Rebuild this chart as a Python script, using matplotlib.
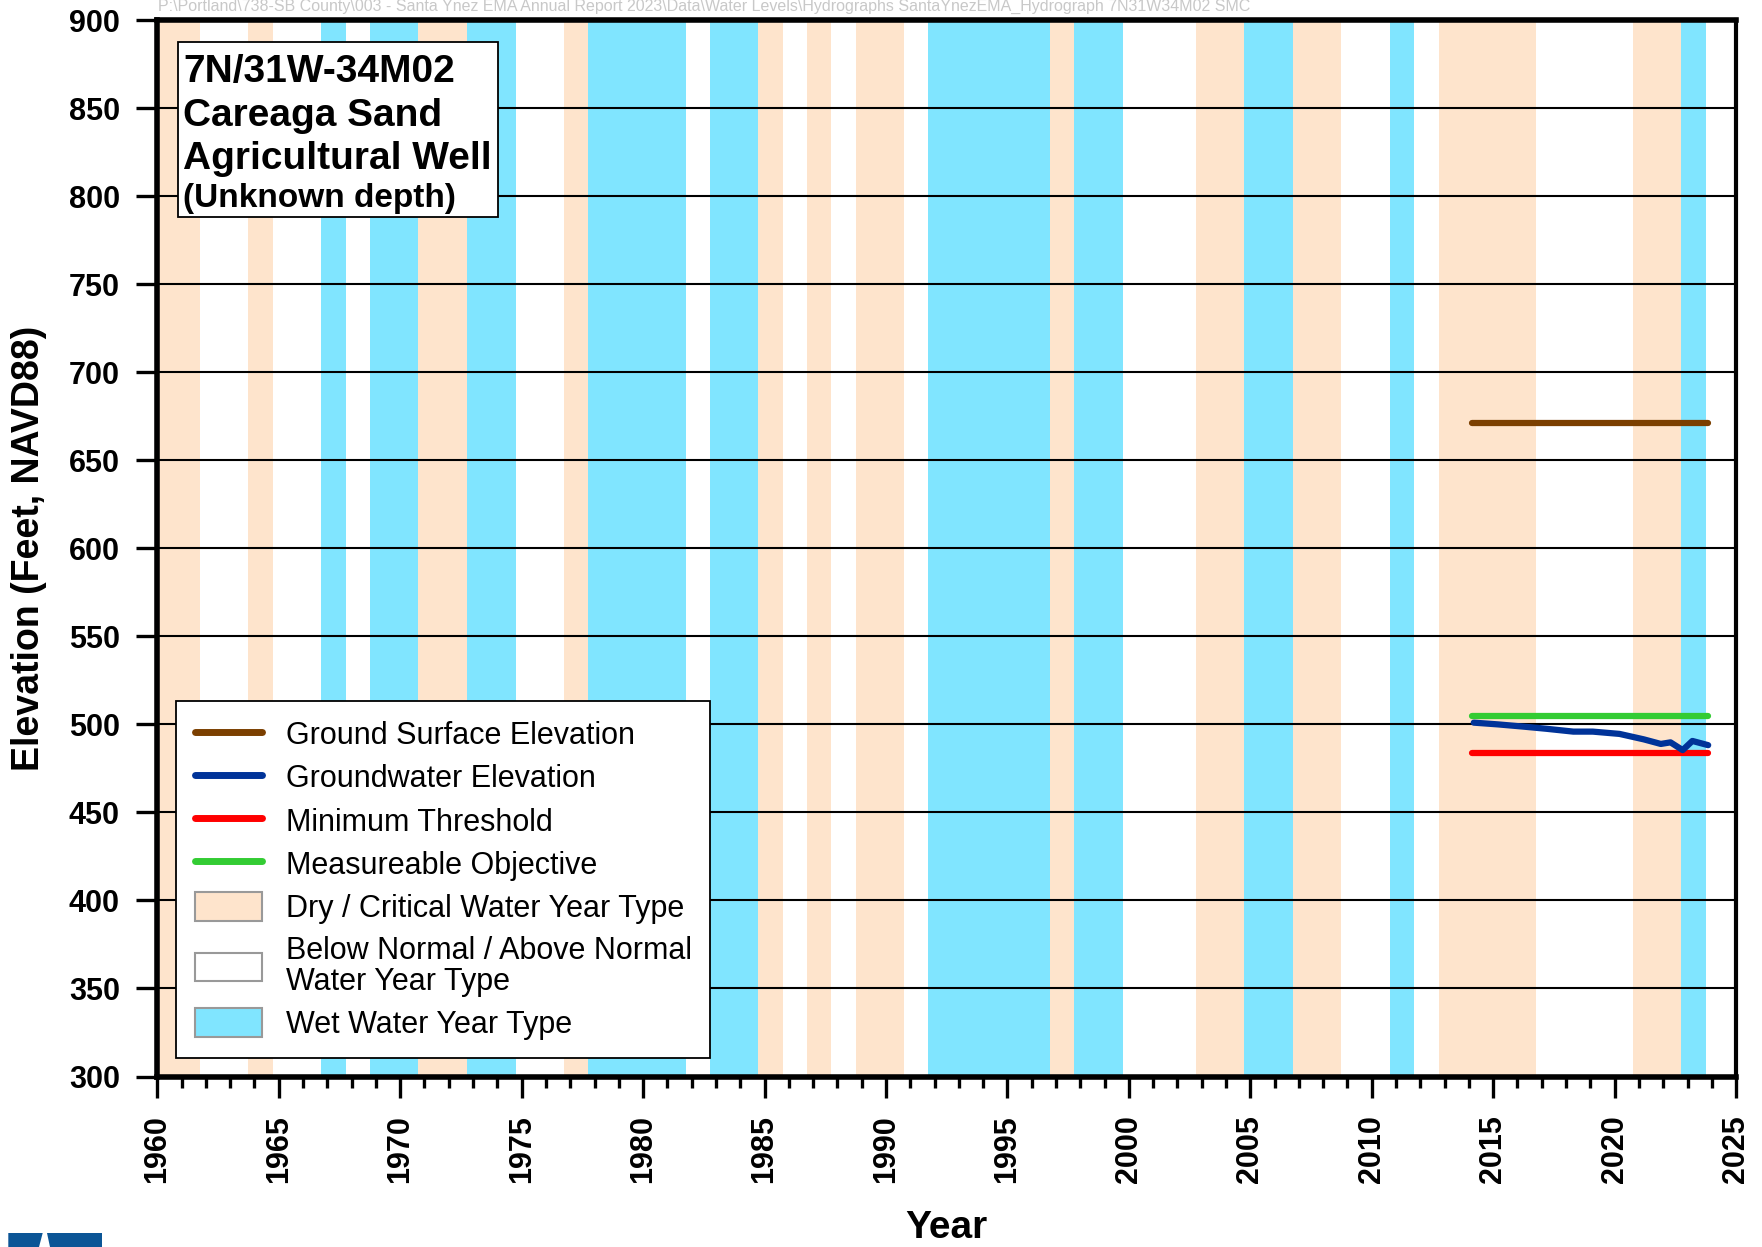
import matplotlib
matplotlib.use("Agg")
import matplotlib.pyplot as plt
from matplotlib.patches import Rectangle, Polygon, Patch
from matplotlib.lines import Line2D

plt.rcParams['font.family'] = ['Liberation Sans', 'DejaVu Sans']

# water year types, WY1960 - WY2024 (D = dry/critical, N = below/above normal, W = wet)
wy_years = list(range(1960, 2025))
wy_types = list("DDNNDNNWNWWDDWWNNDWWWWNWWDNDNDDNWWWWWDWWNNNDDWWDDNNWNDDDDNNNNDDWN")

# monitoring data
gs_years = [2014.13, 2023.85]
gs_elev = [671, 671]
mo_years = [2014.13, 2023.85]
mo_elev = [505, 505]
mt_years = [2014.13, 2023.85]
mt_elev = [484, 484]
gw_years = [2014.2, 2015.2, 2016.2, 2017.2, 2018.3, 2019.1, 2020.2, 2021.2, 2021.9, 2022.3, 2022.8, 2023.2, 2023.85]
gw_elev = [501.0, 500.0, 498.8, 497.5, 495.9, 495.9, 494.6, 491.5, 488.9, 489.8, 485.4, 490.6, 488.2]

dry_col = '#FEE4CC'
wet_col = '#80E5FF'
W, H = 1762, 1247

fig = plt.figure(figsize=(W/100, H/100), dpi=100)
ax = fig.add_axes([157.3/W, 1-1076.5/H, 1578.8/W, 1056.3/H])

for yr, t in zip(wy_years, wy_types):
    if t == 'D':
        ax.axvspan(yr-0.25, yr+0.75, color=dry_col, lw=0, zorder=0)
    elif t == 'W':
        ax.axvspan(yr-0.25, yr+0.75, color=wet_col, lw=0, zorder=0)

ax.plot(gs_years, gs_elev, color='#7B3F00', lw=4.5, solid_capstyle='round', zorder=3)
ax.plot(mo_years, mo_elev, color='#33CC33', lw=4.5, solid_capstyle='round', zorder=3)
ax.plot(mt_years, mt_elev, color='#FF0000', lw=4.5, solid_capstyle='round', zorder=3)
ax.plot(gw_years, gw_elev, color='#003399', lw=4.5, solid_capstyle='round', zorder=4)

ax.set_xlim(1960, 2025)
ax.set_ylim(300, 900)
ax.set_xticks(range(1960, 2026, 5))
ax.set_xticks(range(1960, 2026, 1), minor=True)
ax.set_yticks(range(300, 901, 50))
ax.set_axisbelow('line')
ax.grid(axis='y', color='black', lw=1.5)

ax.tick_params(axis='x', which='major', length=15, width=2.4, pad=13, labelsize=22, labelrotation=90)
ax.tick_params(axis='x', which='minor', length=8, width=2.4)
ax.tick_params(axis='y', which='major', length=15, width=2.4, pad=12, labelsize=22)
for lab in ax.get_xticklabels() + ax.get_yticklabels():
    lab.set_fontweight('bold')
for s in ['top', 'left', 'bottom']:
    ax.spines[s].set_linewidth(4)
ax.spines['right'].set_linewidth(3)

# well name box
ax.add_patch(Rectangle((0.0128, 0.8138), 0.2029, 0.1659, transform=ax.transAxes,
                       facecolor='white', edgecolor='black', lw=1.3, zorder=5))
title_lines = ["7N/31W-34M02", "Careaga Sand", "Agricultural Well", "(Unknown depth)"]
title_y = [0.9415, 0.8998, 0.8596, 0.8232]
title_sizes = [28, 28, 28, 24]
for txt, yy, fs in zip(title_lines, title_y, title_sizes):
    ax.text(0.0163, yy, txt, transform=ax.transAxes, fontsize=fs, fontweight='bold',
            va='baseline', ha='left', zorder=6)

handles = [
    Line2D([], [], color='#7B3F00', lw=5, solid_capstyle='round'),
    Line2D([], [], color='#003399', lw=5, solid_capstyle='round'),
    Line2D([], [], color='#FF0000', lw=5, solid_capstyle='round'),
    Line2D([], [], color='#33CC33', lw=5, solid_capstyle='round'),
    Patch(facecolor=dry_col, edgecolor='#999999', lw=1.5),
    Patch(facecolor='white', edgecolor='#999999', lw=1.5),
    Patch(facecolor=wet_col, edgecolor='#999999', lw=1.5),
]
labels = ["Ground Surface Elevation", "Groundwater Elevation", "Minimum Threshold",
          "Measureable Objective", "Dry / Critical Water Year Type",
          "Below Normal / Above Normal\nWater Year Type", "Wet Water Year Type"]
leg = ax.legend(handles, labels, loc='upper left', bbox_to_anchor=(0.0121, 0.3553),
                borderaxespad=0, fontsize=22, frameon=True, fancybox=False,
                edgecolor='black', framealpha=1, handlelength=2.2, handleheight=1.05,
                handletextpad=0.78, borderpad=0.6, labelspacing=0.38)
leg.get_frame().set_linewidth(1.3)
leg.set_zorder(10)
for t in leg.get_texts():
    t.set_linespacing(1.05)

fig.text(29/W, 1-548/H, "Elevation (Feet, NAVD88)", rotation=90, ha='center', va='center',
         fontsize=27, fontweight='bold')
fig.text(946.7/W, 1-1228/H, "Year", ha='center', va='center', fontsize=28, fontweight='bold')
fig.text(158/W, 1-6/H,
         r"P:\Portland\738-SB County\003 - Santa Ynez EMA Annual Report 2023\Data\Water Levels\Hydrographs SantaYnezEMA_Hydrograph 7N31W34M02 SMC",
         fontsize=11.5, color='#C8C8C8', ha='left', va='center')

# logo fragment at bottom left
logo_col = '#0B5596'
fig.patches.append(Polygon([(8.3/W, 1-1233/H), (42.7/W, 1-1233/H), (39/W, 0), (8.3/W, 0)],
                           closed=True, transform=fig.transFigure, color=logo_col, lw=0))
fig.patches.append(Polygon([(46.7/W, 1-1233/H), (101.7/W, 1-1233/H), (101.7/W, 0), (50/W, 0)],
                           closed=True, transform=fig.transFigure, color=logo_col, lw=0))

fig.savefig("out.png", dpi=100)
